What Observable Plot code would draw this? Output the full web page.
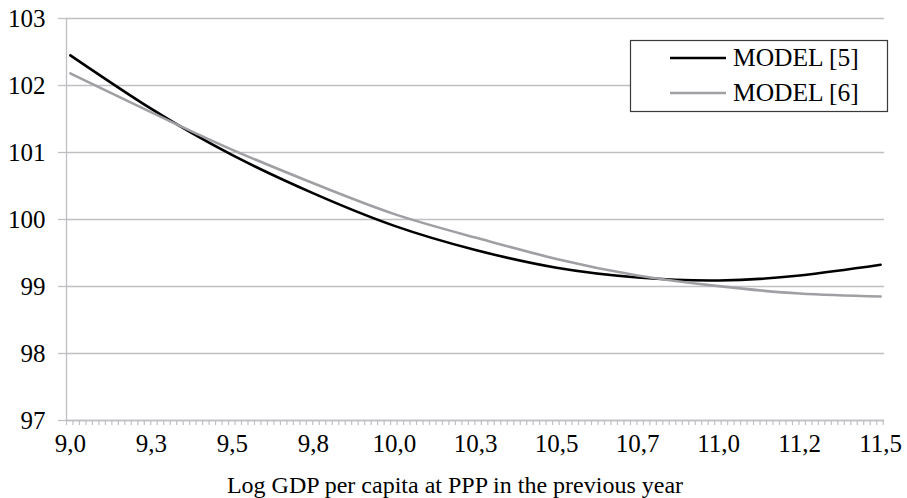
<!DOCTYPE html>
<html>
<head>
<meta charset="utf-8">
<script src="https://cdn.jsdelivr.net/npm/d3@7"></script>
<script src="https://cdn.jsdelivr.net/npm/@observablehq/plot@0.6"></script>
<style>
  html, body { margin: 0; padding: 0; background: #fff; }
  #chart { width: 907px; height: 498px; }
  #chart svg text { font-family: "Liberation Serif", "Times New Roman", serif !important; }
</style>
</head>
<body>
<div id="chart"></div>
<script>
// ---- data ----
const xValues = [9.00, 9.25, 9.50, 9.75, 10.00, 10.25, 10.50, 10.75, 11.00, 11.25, 11.50];
const model5 = [102.45, 101.65, 100.96, 100.39, 99.905, 99.545, 99.28, 99.135, 99.09, 99.165, 99.325];
const model6 = [102.18, 101.60, 101.04, 100.54, 100.08, 99.73, 99.41, 99.165, 99.005, 98.895, 98.85];
const seriesNames = ["MODEL [5]", "MODEL [6]"];
const xTickValues = [9.00, 9.25, 9.50, 9.75, 10.00, 10.25, 10.50, 10.75, 11.00, 11.25, 11.50];
const xTickLabels = ["9,0", "9,3", "9,5", "9,8", "10,0", "10,3", "10,5", "10,7", "11,0", "11,2", "11,5"];
const yTicks = [97, 98, 99, 100, 101, 102, 103];
const xTitle = "Log GDP per capita at PPP in the previous year";

const colors = {"MODEL [5]": "#000000", "MODEL [6]": "#a0a0a4"};
const gridColor = "#bfbfc4";
const font = "Liberation Serif";

const rows = [];
xValues.forEach((x, i) => {
  rows.push({x, y: model5[i], s: seriesNames[0]});
  rows.push({x, y: model6[i], s: seriesNames[1]});
});

const xDomain = [8.988, 11.512];
const minorTicks = d3.range(0, 127).map(k => xDomain[0] + k * 0.02).filter(v => v <= xDomain[1] + 1e-9);

const chart = Plot.plot({
  width: 907,
  height: 498,
  marginLeft: 66,
  marginRight: 23,
  marginTop: 18,
  marginBottom: 78,
  style: {fontFamily: font, fontSize: "25px", color: "#000", background: "#fff", overflow: "visible"},
  x: {domain: xDomain, axis: null},
  y: {domain: [97, 103], axis: null},
  marks: [
    Plot.gridY(yTicks, {stroke: gridColor, strokeOpacity: 1, strokeWidth: 1.3}),
    Plot.axisY(yTicks, {tickSize: 8, tickPadding: 13, stroke: gridColor, strokeWidth: 1.3, fill: "#000", fontSize: 25, fontFamily: font, label: null, tickFormat: d => String(d)}),
    Plot.ruleX([xDomain[0]], {stroke: gridColor, strokeWidth: 1.3}),
    Plot.ruleY([97], {stroke: gridColor, strokeWidth: 1.3}),
    Plot.axisX(minorTicks, {tickSize: 5, stroke: gridColor, strokeWidth: 1.2, tickFormat: () => "", label: null}),
    Plot.axisX(xTickValues, {tickSize: 0, tickPadding: 14, fill: "#000", fontSize: 25, fontFamily: font, label: null, tickFormat: (d, i) => xTickLabels[i]}),
    Plot.line(rows, {x: "x", y: "y", z: "s", stroke: d => colors[d.s], strokeWidth: 2.6, curve: "natural"})
  ]
});

document.getElementById("chart").appendChild(chart);

const svg = d3.select(chart);
// x axis title
svg.append("text")
  .attr("x", 455).attr("y", 493)
  .attr("text-anchor", "middle")
  .attr("font-family", font).attr("font-size", 24).attr("fill", "#000")
  .text(xTitle);

// legend
const lg = svg.append("g").attr("text-anchor", "start");
lg.append("rect").attr("x", 630.5).attr("y", 40.5).attr("width", 257).attr("height", 71)
  .attr("fill", "#fff").attr("stroke", "#3a3a3a").attr("stroke-width", 1.2);
seriesNames.forEach((name, i) => {
  const yy = 58 + i * 35;
  lg.append("line").attr("x1", 670).attr("x2", 726).attr("y1", yy).attr("y2", yy)
    .attr("stroke", colors[name]).attr("stroke-width", 2.6);
  lg.append("text").attr("x", 733).attr("y", yy + 7.5)
    .attr("text-anchor", "start")
    .attr("font-family", font).attr("font-size", 25.5).attr("fill", "#000")
    .text(name);
});
</script>
</body>
</html>
